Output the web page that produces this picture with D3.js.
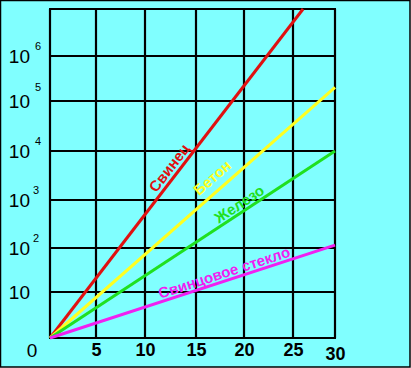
<!DOCTYPE html>
<html>
<head>
<meta charset="utf-8">
<script src="https://cdn.jsdelivr.net/npm/d3@7"></script>
<style>
  body { margin: 0; background: #fff; }
  svg { display: block; }
  .tick text { font-family: "Liberation Sans", Arial, sans-serif; font-weight: bold; }
</style>
</head>
<body>
<script>
var svgWidth = 411;
var svgHeight = 368;

// x ticks (thickness, cm) and y ticks (attenuation factor, log)
var xTicks = [0, 5, 10, 15, 20, 25, 30];
var yTicks = [1, 10, 100, 1e3, 1e4, 1e5, 1e6, 1e7];
var yExponents = ["", "", "2", "3", "4", "5", "6"];

// series: start and end points (straight lines on log scale)
var seriesNames = ["Свинец", "Бетон", "Железо", "Свинцовое стекло"];
var seriesColors = ["#e01010", "#ffff20", "#20e020", "#f020f0"];
var seriesX = [[0, 26.2], [0, 30], [0, 30], [0, 30]];
var seriesY = [[1, 1e7], [1, 2e5], [1, 1e4], [1, 115]];

// where along each line its name sits (fraction) and how far above
var labelAt = [0.50, 0.60, 0.68, 0.62];
var labelGap = [4, 8, 3, 3];

var svg = d3.select("body")
    .append("svg")
    .attr("width", svgWidth)
    .attr("height", svgHeight);

svg.append("rect")
    .attr("x", 0.5).attr("y", 0.5)
    .attr("width", svgWidth - 1.5).attr("height", svgHeight - 1.5)
    .attr("fill", "#80ffff")
    .attr("stroke", "#000")
    .attr("stroke-width", 1.5);

// hand drawn grid is a bit uneven, so scales are piecewise
var x = d3.scaleLinear()
    .domain(xTicks)
    .range([50, 96, 145, 196, 244, 293, 335]);

var y = d3.scaleLog()
    .domain(yTicks)
    .range([338, 292, 248, 200, 151, 101, 56, 9]);

var grid = svg.append("g");

grid.selectAll("line.v")
    .data(xTicks)
    .enter()
    .append("line")
    .attr("x1", d => x(d)).attr("x2", d => x(d))
    .attr("y1", y(1e7)).attr("y2", y(1))
    .attr("stroke", "#000")
    .attr("stroke-width", 2.2);

grid.selectAll("line.h")
    .data(yTicks)
    .enter()
    .append("line")
    .attr("y1", d => y(d)).attr("y2", d => y(d))
    .attr("x1", x(0) - 1).attr("x2", x(30) + 1)
    .attr("stroke", "#000")
    .attr("stroke-width", 2.2);

var line = d3.line()
    .x(d => x(d[0]))
    .y(d => y(d[1]));

seriesNames.forEach(function(name, i) {
    var pts = seriesX[i].map((v, j) => [v, seriesY[i][j]]);
    svg.append("path")
        .attr("d", line(pts))
        .attr("fill", "none")
        .attr("stroke", seriesColors[i])
        .attr("stroke-width", 3);

    var x0 = x(pts[0][0]), y0 = y(pts[0][1]);
    var x1 = x(pts[1][0]), y1 = y(pts[1][1]);
    var t = labelAt[i];
    var px = x0 + (x1 - x0) * t;
    var py = y0 + (y1 - y0) * t;
    var ang = Math.atan2(y1 - y0, x1 - x0) * 180 / Math.PI;

    svg.append("text")
        .attr("transform", `translate(${px}, ${py}) rotate(${ang})`)
        .attr("y", -labelGap[i])
        .attr("text-anchor", "middle")
        .attr("font-family", "Liberation Sans, Arial, sans-serif")
        .attr("font-weight", "bold")
        .attr("font-size", 15)
        .attr("fill", seriesColors[i])
        .text(name);
});

// y labels: 10, 10^2 ... 10^6
var yLab = svg.append("g")
    .attr("font-family", "Liberation Sans, Arial, sans-serif")
    .attr("fill", "#000");

yTicks.slice(1, 7).forEach(function(v, i) {
    yLab.append("text")
        .attr("x", 30)
        .attr("y", y(v) + 7)
        .attr("text-anchor", "end")
        .attr("font-size", 19)
        .text("10");
    if (yExponents[i + 1]) {
        yLab.append("text")
            .attr("x", 33 + (i > 2 ? 2 : 0))
            .attr("y", y(v) - (i === 4 ? 10 : 6))
            .attr("font-size", 11)
            .text(yExponents[i + 1]);
    }
});

// x labels
var bottomAxis = d3.axisBottom(x)
    .tickValues(xTicks.slice(1))
    .tickSize(0)
    .tickPadding(5)
    .tickFormat(d3.format("d"));

var xAxis = svg.append("g")
    .attr("transform", `translate(0, ${y(1)})`)
    .call(bottomAxis);
xAxis.select(".domain").remove();
xAxis.selectAll("text")
    .attr("font-size", 18)
    .attr("fill", "#000")
    .attr("dy", d => d === 30 ? "0.95em" : "0.71em");

svg.append("text")
    .attr("x", 32)
    .attr("y", y(1) + 19)
    .attr("text-anchor", "middle")
    .attr("font-family", "Liberation Sans, Arial, sans-serif")
    .attr("font-size", 19)
    .text("0");
</script>
</body>
</html>
